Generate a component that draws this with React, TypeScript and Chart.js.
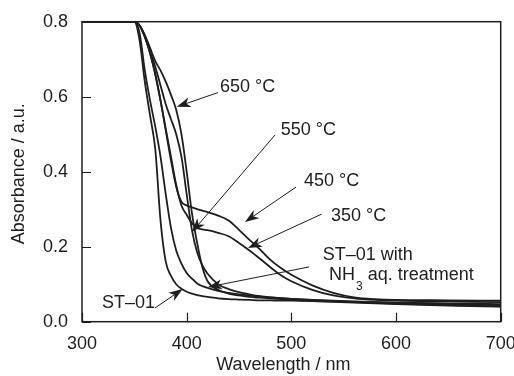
import { useEffect, useRef } from 'react';
import { Chart, registerables } from 'chart.js';

Chart.register(...registerables);

const wavelengths = [300, 350, 355, 360, 365, 370, 375, 380, 385, 390, 395, 400, 405, 410, 415, 420, 430, 440, 450, 460, 470, 480, 490, 500, 520, 540, 560, 580, 600, 650, 700];

const st01 = [0.8, 0.8, 0.75, 0.64, 0.55, 0.46, 0.27, 0.16, 0.122, 0.1, 0.088, 0.08, 0.075, 0.071, 0.068, 0.066, 0.062, 0.06, 0.059, 0.058, 0.057, 0.057, 0.056, 0.056, 0.055, 0.054, 0.053, 0.052, 0.051, 0.049, 0.047];
const nh3Treated = [0.8, 0.8, 0.77, 0.67, 0.59, 0.52, 0.44, 0.34, 0.25, 0.19, 0.155, 0.13, 0.115, 0.102, 0.095, 0.09, 0.082, 0.077, 0.073, 0.07, 0.067, 0.065, 0.063, 0.061, 0.058, 0.056, 0.054, 0.052, 0.05, 0.047, 0.044];
const c350 = [0.8, 0.8, 0.79, 0.76, 0.716, 0.66, 0.59, 0.515, 0.44, 0.365, 0.31, 0.285, 0.263, 0.25, 0.246, 0.244, 0.237, 0.228, 0.21, 0.19, 0.168, 0.145, 0.124, 0.108, 0.085, 0.07, 0.062, 0.058, 0.056, 0.054, 0.052];
const c450 = [0.8, 0.8, 0.79, 0.76, 0.716, 0.66, 0.59, 0.51, 0.43, 0.36, 0.32, 0.31, 0.305, 0.3, 0.296, 0.292, 0.283, 0.27, 0.245, 0.218, 0.193, 0.165, 0.143, 0.125, 0.097, 0.077, 0.065, 0.06, 0.058, 0.057, 0.056];
const c550 = [0.8, 0.8, 0.79, 0.76, 0.72, 0.68, 0.63, 0.58, 0.54, 0.5, 0.44, 0.34, 0.245, 0.185, 0.15, 0.128, 0.1, 0.087, 0.079, 0.073, 0.068, 0.065, 0.063, 0.061, 0.058, 0.055, 0.052, 0.05, 0.048, 0.044, 0.041];
const c650 = [0.8, 0.8, 0.79, 0.765, 0.73, 0.695, 0.67, 0.64, 0.605, 0.565, 0.5, 0.4, 0.29, 0.21, 0.145, 0.108, 0.085, 0.075, 0.07, 0.066, 0.064, 0.062, 0.06, 0.058, 0.055, 0.053, 0.051, 0.049, 0.047, 0.043, 0.04];

const seriesNames = ['ST–01', 'ST–01 with NH3 aq. treatment', '350 °C', '450 °C', '550 °C', '650 °C'];
const seriesValues = [st01, nh3Treated, c350, c450, c550, c650];

const xTicks = [300, 400, 500, 600, 700];
const yTicks = [0.0, 0.2, 0.4, 0.6, 0.8];

const xTitle = 'Wavelength / nm';
const yTitle = 'Absorbance / a.u.';

// annotation labels: text position (data coords, left / vertical middle), arrow start -> tip (data coords)
type Annot = { lines: string[]; x: number; y: number; from: [number, number]; to: [number, number] };
const annotations: Annot[] = [
  { lines: ['650 °C'], x: 431.8, y: 0.6245, from: [429.9, 0.611], to: [390.5, 0.573] },
  { lines: ['550 °C'], x: 489.8, y: 0.511, from: [484.4, 0.498], to: [405.1, 0.239] },
  { lines: ['450 °C'], x: 512.1, y: 0.375, from: [504.5, 0.359], to: [455.7, 0.266] },
  { lines: ['350 °C'], x: 537.9, y: 0.2805, from: [529.0, 0.287], to: [458.6, 0.1965] },
  { lines: ['ST–01 with', 'NH|3| aq. treatment'], x: 530.0, y: 0.178, from: [516.9, 0.146], to: [420.4, 0.0925] },
  { lines: ['ST–01'], x: 319.1, y: 0.0485, from: [369.7, 0.0365], to: [396.2, 0.087] },
];

const FONT = 'Liberation Sans, Arial, Helvetica, sans-serif';
const INK = '#1e1e1e';

const drawArrow = (ctx: CanvasRenderingContext2D, x1: number, y1: number, x2: number, y2: number) => {
  const ang = Math.atan2(y2 - y1, x2 - x1);
  const dx = Math.cos(ang), dy = Math.sin(ang);
  const L = 14, W = 5, N = 10;
  ctx.beginPath();
  ctx.moveTo(x1, y1);
  ctx.lineTo(x2 - dx * N, y2 - dy * N);
  ctx.lineWidth = 1;
  ctx.strokeStyle = INK;
  ctx.stroke();
  ctx.beginPath();
  ctx.moveTo(x2, y2);
  ctx.lineTo(x2 - dx * L - dy * W, y2 - dy * L + dx * W);
  ctx.lineTo(x2 - dx * N, y2 - dy * N);
  ctx.lineTo(x2 - dx * L + dy * W, y2 - dy * L - dx * W);
  ctx.closePath();
  ctx.fillStyle = INK;
  ctx.fill();
};

const framePlugin = {
  id: 'frame',
  beforeDraw(chart: any) {
    const ctx = chart.ctx;
    ctx.save();
    ctx.fillStyle = '#fff';
    ctx.fillRect(0, 0, chart.width, chart.height);
    ctx.restore();
  },
  afterDraw(chart: any) {
    const { ctx, chartArea } = chart;
    const { left, right, top, bottom } = chartArea;
    const xs = chart.scales.x, ys = chart.scales.y;
    ctx.save();
    // frame
    ctx.strokeStyle = INK;
    ctx.lineWidth = 1.5;
    ctx.strokeRect(left, top, right - left, bottom - top);
    // inward ticks
    ctx.lineWidth = 1.2;
    ctx.beginPath();
    yTicks.forEach((v) => {
      const py = Math.round(ys.getPixelForValue(v)) + 0.5;
      ctx.moveTo(left, py);
      ctx.lineTo(left + 9, py);
    });
    xTicks.forEach((v) => {
      const px = Math.round(xs.getPixelForValue(v)) + 0.5;
      ctx.moveTo(px, bottom);
      ctx.lineTo(px, bottom - 9);
    });
    ctx.stroke();

    // axis titles
    ctx.fillStyle = INK;
    ctx.font = `18px ${FONT}`;
    ctx.textAlign = 'center';
    ctx.textBaseline = 'middle';
    ctx.fillText(xTitle, (left + right) / 2 - 8, 365);
    ctx.save();
    ctx.translate(19, (top + bottom) / 2 + 2);
    ctx.rotate(-Math.PI / 2);
    ctx.fillText(yTitle, 0, 0);
    ctx.restore();

    // annotations
    annotations.forEach((a) => {
      const tx = xs.getPixelForValue(a.x);
      const ty = ys.getPixelForValue(a.y);
      ctx.textAlign = 'left';
      ctx.textBaseline = 'middle';
      a.lines.forEach((line, i) => {
        const yy = ty + i * 20;
        const lx = i === 0 ? tx : tx + 6.3;
        if (line.includes('|')) {
          const parts = line.split('|');
          ctx.font = `18px ${FONT}`;
          ctx.fillText(parts[0], lx, yy);
          let cx = lx + ctx.measureText(parts[0]).width + 1;
          ctx.font = `12px ${FONT}`;
          ctx.fillText(parts[1], cx, yy + 12);
          cx += ctx.measureText(parts[1]).width;
          ctx.font = `18px ${FONT}`;
          ctx.fillText(parts[2], cx, yy);
        } else {
          ctx.font = `18px ${FONT}`;
          ctx.fillText(line, lx, yy);
        }
      });
      drawArrow(ctx, xs.getPixelForValue(a.from[0]), ys.getPixelForValue(a.from[1]), xs.getPixelForValue(a.to[0]), ys.getPixelForValue(a.to[1]));
    });
    ctx.restore();
  },
};

export default function App() {
  const ref = useRef<HTMLCanvasElement>(null);
  useEffect(() => {
    const canvas = ref.current;
    if (!canvas) return;
    const datasets = seriesValues.map((vals, k) => ({
      label: seriesNames[k],
      data: wavelengths.map((x, i) => ({ x, y: vals[i] })),
      borderColor: INK,
      borderWidth: 1.8,
      pointRadius: 0,
      fill: false,
      cubicInterpolationMode: 'monotone' as const,
    }));
    const chart = new Chart(canvas, {
      type: 'line',
      data: { datasets },
      options: {
        animation: false,
        responsive: false,
        devicePixelRatio: 1,
        layout: { padding: { left: 0, right: 13.3, top: 21.7, bottom: 0 } },
        plugins: { legend: { display: false }, tooltip: { enabled: false } },
        scales: {
          x: {
            type: 'linear',
            min: 300,
            max: 700,
            afterBuildTicks: (s: any) => { s.ticks = xTicks.map((v) => ({ value: v })); },
            afterFit: (s: any) => { s.height = 54.3; s.paddingLeft = 0; s.paddingRight = 0; },
            ticks: { padding: 12, color: INK, font: { size: 18, family: FONT }, maxRotation: 0, callback: (v: any) => String(v) },
            grid: { display: false, drawTicks: false },
            border: { display: false },
          },
          y: {
            type: 'linear',
            min: 0,
            max: 0.8,
            afterBuildTicks: (s: any) => { s.ticks = yTicks.map((v) => ({ value: v })); },
            afterFit: (s: any) => { s.width = 82; s.paddingTop = 0; s.paddingBottom = 0; },
            ticks: { padding: 14, color: INK, font: { size: 18, family: FONT }, callback: (v: any) => Number(v).toFixed(1) },
            grid: { display: false, drawTicks: false },
            border: { display: false },
          },
        },
      },
      plugins: [framePlugin],
    });
    return () => chart.destroy();
  }, []);
  return (
    <div style={{ position: 'absolute', left: 0, top: 0, width: 514, height: 376, background: '#fff' }}>
      <canvas ref={ref} width={514} height={376} style={{ display: 'block', width: 514, height: 376 }} />
    </div>
  );
}
